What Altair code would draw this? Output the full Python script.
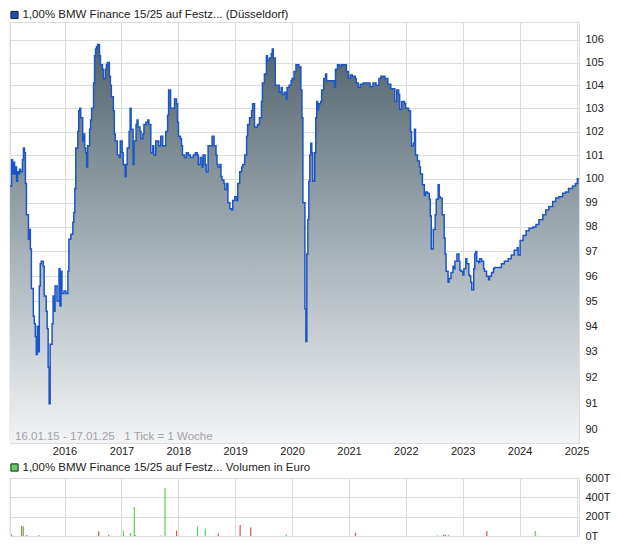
import altair as alt
import pandas as pd

LEGEND_PRICE = "1,00% BMW Finance 15/25 auf Festz... (Düsseldorf)"
LEGEND_VOL = "1,00% BMW Finance 15/25 auf Festz... Volumen in Euro"
RANGE_NOTE = "16.01.15 - 17.01.25\u00a0\u00a0\u00a01 Tick = 1 Woche"

# time of each price reading, in years after 2015-01-01
PRICE_T = [
    0.041, 0.052, 0.069, 0.087, 0.104, 0.122, 0.139, 0.156, 0.174, 0.191, 0.208, 0.226, 0.260, 0.278,
    0.295, 0.312, 0.330, 0.365, 0.382, 0.399, 0.417, 0.451, 0.469, 0.486, 0.503, 0.521, 0.538, 0.556,
    0.573, 0.590, 0.625, 0.642, 0.677, 0.694, 0.712, 0.729, 0.747, 0.781, 0.799, 0.816, 0.833, 0.868,
    0.903, 0.920, 0.938, 0.955, 0.990, 1.024, 1.059, 1.076, 1.111, 1.146, 1.163, 1.181, 1.198, 1.233,
    1.250, 1.267, 1.285, 1.319, 1.337, 1.354, 1.372, 1.389, 1.406, 1.441, 1.458, 1.476, 1.510, 1.528,
    1.545, 1.562, 1.580, 1.615, 1.632, 1.667, 1.684, 1.719, 1.736, 1.753, 1.788, 1.806, 1.823, 1.858,
    1.875, 1.892, 1.927, 1.962, 1.979, 2.014, 2.031, 2.066, 2.083, 2.101, 2.135, 2.153, 2.170, 2.205,
    2.222, 2.257, 2.274, 2.292, 2.326, 2.344, 2.378, 2.396, 2.431, 2.465, 2.483, 2.517, 2.552, 2.569,
    2.604, 2.656, 2.691, 2.726, 2.778, 2.812, 2.830, 2.865, 2.917, 2.934, 2.969, 2.986, 3.003, 3.038,
    3.056, 3.073, 3.108, 3.142, 3.177, 3.212, 3.264, 3.299, 3.333, 3.351, 3.385, 3.420, 3.437, 3.472,
    3.490, 3.524, 3.576, 3.594, 3.611, 3.628, 3.663, 3.681, 3.698, 3.733, 3.750, 3.767, 3.802, 3.819,
    3.854, 3.872, 3.906, 3.941, 3.958, 3.993, 4.028, 4.045, 4.080, 4.115, 4.132, 4.167, 4.201, 4.219,
    4.253, 4.288, 4.306, 4.340, 4.375, 4.392, 4.427, 4.462, 4.479, 4.514, 4.549, 4.566, 4.601, 4.635,
    4.653, 4.670, 4.705, 4.740, 4.774, 4.809, 4.826, 4.861, 4.896, 4.913, 4.948, 4.983, 5.000, 5.035,
    5.069, 5.087, 5.122, 5.156, 5.174, 5.191, 5.226, 5.243, 5.260, 5.278, 5.295, 5.312, 5.330, 5.347,
    5.365, 5.399, 5.417, 5.434, 5.451, 5.469, 5.503, 5.521, 5.556, 5.590, 5.608, 5.625, 5.677, 5.712,
    5.747, 5.764, 5.799, 5.833, 5.868, 5.903, 5.937, 5.955, 5.990, 6.024, 6.059, 6.111, 6.128, 6.163,
    6.198, 6.250, 6.302, 6.372, 6.424, 6.476, 6.528, 6.562, 6.632, 6.684, 6.736, 6.806, 6.840, 6.875,
    6.892, 6.927, 6.979, 6.997, 7.049, 7.083, 7.101, 7.135, 7.153, 7.170, 7.205, 7.240, 7.257, 7.292,
    7.326, 7.344, 7.378, 7.413, 7.431, 7.448, 7.483, 7.517, 7.535, 7.569, 7.587, 7.604, 7.639, 7.674,
    7.691, 7.708, 7.743, 7.760, 7.795, 7.830, 7.847, 7.865, 7.899, 7.934, 7.951, 7.969, 8.003, 8.021,
    8.055, 8.073, 8.108, 8.125, 8.142, 8.160, 8.194, 8.212, 8.229, 8.247, 8.281, 8.299, 8.333, 8.368,
    8.385, 8.420, 8.455, 8.472, 8.507, 8.542, 8.559, 8.628, 8.681, 8.733, 8.802, 8.854, 8.906, 8.958,
    8.976, 9.010, 9.062, 9.115, 9.167, 9.236, 9.288, 9.340, 9.410, 9.462, 9.514, 9.583, 9.635, 9.688,
    9.757, 9.809, 9.861, 9.931, 9.983, 10.017, 10.045,
]
PRICE_V = [
    99.7, 99.7, 100.8, 100.2, 100.7, 100.2, 100.5, 99.9, 100.3, 100.2, 100.4, 100.3, 100.8, 101.3,
    101.1, 99.8, 98.5, 97.5, 97.9, 97.1, 95.5, 94.4, 94.1, 93.6, 92.9, 94.0, 93.0, 95.6,
    96.5, 96.6, 96.4, 95.2, 94.6, 93.9, 92.4, 91.0, 93.3, 94.1, 95.2, 94.6, 95.6, 95.0,
    96.3, 94.8, 96.2, 95.3, 95.4, 95.3, 96.2, 97.5, 97.7, 98.2, 98.6, 99.6, 101.3, 102.0,
    102.9, 103.0, 102.6, 101.6, 101.9, 101.3, 101.1, 100.5, 101.4, 102.1, 102.5, 103.0, 104.1, 105.3,
    105.6, 105.7, 105.8, 105.3, 104.9, 104.7, 104.3, 104.7, 104.9, 105.0, 104.4, 104.0, 103.5, 102.9,
    101.9, 101.6, 101.0, 100.9, 101.6, 101.1, 100.6, 100.1, 100.6, 101.3, 102.0, 103.0, 102.1, 100.6,
    101.6, 102.3, 102.5, 102.2, 102.0, 101.7, 101.9, 102.3, 102.4, 102.5, 102.3, 101.1, 101.4, 101.0,
    101.6, 101.4, 101.8, 101.4, 102.0, 102.7, 103.8, 103.0, 103.0, 103.4, 103.2, 102.4, 101.8, 101.7,
    101.4, 101.0, 100.9, 101.1, 101.0, 100.9, 101.0, 101.1, 101.0, 100.6, 100.9, 100.5, 101.0, 100.6,
    100.3, 101.4, 101.4, 101.8, 101.8, 101.4, 101.0, 100.6, 100.5, 100.6, 100.1, 99.95, 99.8, 99.55,
    99.8, 99.0, 98.75, 98.7, 99.1, 99.25, 99.1, 99.8, 100.3, 100.5, 100.6, 101.0, 101.8, 102.3,
    102.6, 102.9, 103.2, 102.2, 102.2, 102.3, 102.6, 103.3, 104.1, 104.5, 105.3, 105.1, 105.2, 105.4,
    105.6, 105.2, 104.0, 104.0, 103.7, 103.9, 103.6, 103.7, 103.4, 103.9, 104.0, 104.2, 104.3, 104.6,
    104.9, 104.9, 104.8, 103.8, 102.6, 99.0, 94.7, 93.4, 96.9, 98.3, 99.9, 101.0, 101.5, 101.1,
    99.9, 101.1, 102.6, 103.3, 102.95, 103.2, 103.3, 103.8, 104.3, 104.5, 104.2, 104.2, 104.2, 104.2,
    103.9, 104.7, 104.9, 104.85, 104.9, 104.9, 104.9, 104.6, 104.3, 104.45, 104.4, 104.3, 104.1, 103.9,
    104.05, 104.1, 104.1, 103.95, 104.1, 104.0, 104.3, 104.4, 104.3, 104.05, 103.85, 103.3, 103.8, 103.6,
    102.95, 103.3, 103.2, 103.0, 102.9, 102.0, 101.4, 101.5, 102.1, 101.0, 100.75, 100.5, 100.2, 99.75,
    99.3, 99.45, 99.4, 99.15, 98.45, 97.1, 97.9, 98.5, 99.15, 99.75, 99.25, 99.2, 98.5, 97.55,
    96.9, 96.2, 95.75, 95.9, 96.15, 96.4, 96.3, 96.6, 96.9, 96.6, 96.25, 96.2, 96.05, 96.3,
    96.7, 96.5, 96.05, 96.0, 95.75, 95.45, 96.3, 96.9, 97.0, 96.6, 96.55, 96.7, 96.6, 96.3,
    96.2, 96.0, 95.85, 96.0, 96.15, 96.3, 96.35, 96.35, 96.5, 96.6, 96.7, 96.85, 97.05, 97.15,
    96.85, 97.45, 97.65, 97.85, 97.95, 98.0, 98.1, 98.3, 98.5, 98.7, 98.85, 99.05, 99.2, 99.25,
    99.4, 99.45, 99.6, 99.7, 99.8, 100.0, 100.0,
]

# volume bars: time (years after 2015-01-01), volume in Euro, direction
VOL_T = [0.069, 0.248, 0.278, 0.335, 0.550, 0.573, 1.602, 1.776, 1.979, 2.036, 2.158, 2.227, 2.245,
         2.691, 2.766, 2.969, 3.339, 3.476, 3.703, 4.087, 4.274, 4.899, 6.115, 7.557, 7.667, 7.698,
         7.755, 8.425, 9.276]
VOL_V = [20000, 103000, 100000, 10000, 10000, 3000, 50000, 10000, 3000, 57000, 30000, 300000, 10000,
         5000, 500000, 55000, 100000, 78000, 25000, 115000, 88000, 15000, 35000, 6000, 15000, 8000,
         13000, 52000, 52000]
VOL_DIR = ["up", "down", "up", "down", "up", "up", "down", "down", "up", "up", "up", "up", "up",
           "up", "up", "down", "up", "up", "down", "down", "down", "up", "down", "up", "down", "down",
           "up", "down", "up"]

PRICE_TICKS = list(range(90, 107))
YEAR_TICKS = list(range(2016, 2026))
VOL_TICKS = [0, 200000, 400000, 600000]
PRICE_DOMAIN = [89.51, 106.8]
VOL_DOMAIN = [0, 600000]

GRID = "#dcdcdc"
LINE = "#1a56c8"
FONT = "Liberation Sans"

t0 = pd.Timestamp("2015-01-01")
price = pd.DataFrame({"date": [t0 + pd.Timedelta(days=o * 365.25) for o in PRICE_T], "price": PRICE_V})
vol = pd.DataFrame({"date": [t0 + pd.Timedelta(days=o * 365.25) for o in VOL_T], "vol": VOL_V, "dir": VOL_DIR})

W = 569
H_TOP = 421
H_VOL = 58

x_scale = alt.Scale(domain=[alt.DateTime(year=2015, month=1, date=16),
                            alt.DateTime(year=2025, month=1, date=17)], nice=False)
year_vals = [alt.DateTime(year=y, month=1, date=1) for y in YEAR_TICKS]


def x_enc(labels):
    return alt.X("date:T", scale=x_scale, title=None,
                 axis=alt.Axis(values=year_vals, format="%Y", grid=True, gridColor=GRID, gridWidth=1,
                               ticks=False, tickSize=0, labels=labels, labelPadding=2, labelFontSize=11,
                               labelColor="#222222", labelFont=FONT, labelFlush=False, labelOverlap=False,
                               domainColor=GRID, domainWidth=1))


one = pd.DataFrame({"k": [0]})

area = alt.Chart(price).mark_area(
    interpolate="step-after", clip=True,
    color=alt.Gradient(gradient="linear", x1=0, x2=0, y1=0, y2=1,
                       stops=[alt.GradientStop(color="#52636d", offset=0),
                              alt.GradientStop(color="#a3afb6", offset=0.5),
                              alt.GradientStop(color="#f3f4f6", offset=1)])
).encode(
    x=x_enc(True),
    y=alt.Y("price:Q", title=None,
            scale=alt.Scale(type="log", domain=PRICE_DOMAIN, nice=False),
            axis=alt.Axis(orient="right", values=PRICE_TICKS, format="d", grid=True, gridColor=GRID,
                          ticks=False, tickSize=0, labelPadding=6, labelFontSize=11, labelColor="#222222",
                          labelFont=FONT, domainColor=GRID)),
    y2=alt.datum(PRICE_DOMAIN[0]),
)
line = alt.Chart(price).mark_line(interpolate="step-after", color=LINE, strokeWidth=1.5, clip=True).encode(
    x="date:T", y="price:Q")

left_top = alt.Chart(one).mark_rule(color=GRID, strokeWidth=1).encode(
    x=alt.value(0), y=alt.value(0), y2=alt.value(H_TOP))
note = alt.Chart(one).mark_text(align="left", baseline="middle", fontSize=11.5, font=FONT,
                                color="#a2a2aa").encode(
    x=alt.value(5), y=alt.value(H_TOP - 6), text=alt.value(RANGE_NOTE))
leg_sq = alt.Chart(one).mark_square(size=52, fill="#1f50b0", stroke="#222222", strokeWidth=1,
                                    opacity=1).encode(x=alt.value(4.5), y=alt.value(-7))
leg_tx = alt.Chart(one).mark_text(align="left", baseline="middle", fontSize=11.5, font=FONT,
                                  color="#222222").encode(
    x=alt.value(12.5), y=alt.value(-7), text=alt.value(LEGEND_PRICE))

top = alt.layer(left_top, area, line, note, leg_sq, leg_tx).properties(width=W, height=H_TOP)

bars = alt.Chart(vol).mark_rule(strokeWidth=1.2).encode(
    x=x_enc(False),
    y=alt.Y("vol:Q", title=None, scale=alt.Scale(domain=VOL_DOMAIN, nice=False),
            axis=alt.Axis(orient="right", values=VOL_TICKS, labelExpr="format(datum.value/1000,'d') + 'T'",
                          grid=True, gridColor=GRID, ticks=False, tickSize=0, labelPadding=6,
                          labelFontSize=11, labelColor="#222222", labelFont=FONT, domainColor=GRID)),
    y2=alt.datum(0),
    color=alt.Color("dir:N", legend=None,
                    scale=alt.Scale(domain=["up", "down"], range=["#5ccf5c", "#d9534f"])),
)
left_vol = alt.Chart(one).mark_rule(color=GRID, strokeWidth=1).encode(
    x=alt.value(0), y=alt.value(0), y2=alt.value(H_VOL))
leg_sq2 = alt.Chart(one).mark_square(size=52, fill="#5ccf5c", stroke="#222222", strokeWidth=1,
                                     opacity=1).encode(x=alt.value(4.5), y=alt.value(-10.5))
leg_tx2 = alt.Chart(one).mark_text(align="left", baseline="middle", fontSize=11.5, font=FONT,
                                   color="#222222").encode(
    x=alt.value(12.5), y=alt.value(-10.5), text=alt.value(LEGEND_VOL))

bottom = alt.layer(left_vol, bars, leg_sq2, leg_tx2).properties(width=W, height=H_VOL)

chart = alt.vconcat(top, bottom, spacing=4).properties(
    padding={"left": 0, "top": 0, "right": 0, "bottom": 0}
).configure_view(stroke=None).configure(background="white")

chart.save("out.html", embed_options={"renderer": "svg", "actions": False})
